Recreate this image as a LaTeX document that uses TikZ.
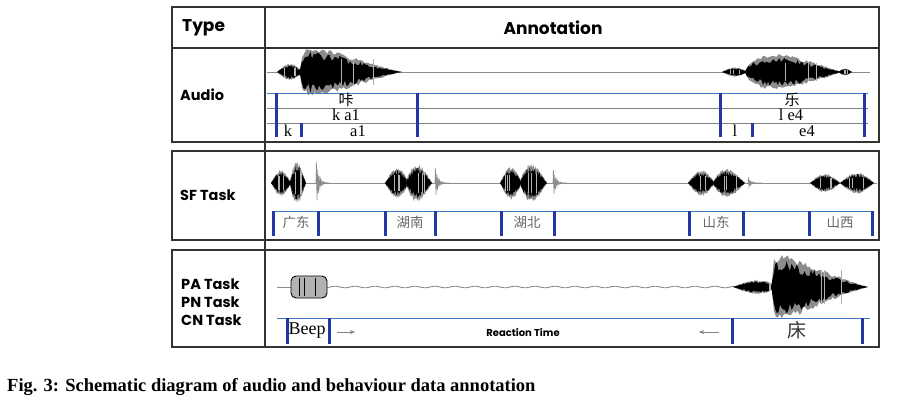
\documentclass[tikz,border=0pt]{standalone}
\usepackage{fontspec}
\setmainfont{Liberation Serif}
\setsansfont{Poppins}
\newfontfamily\cjk{Noto Sans CJK SC}
\usetikzlibrary{arrows.meta}

\definecolor{framegray}{HTML}{333333}
\definecolor{tierblue}{HTML}{3B78BD}
\definecolor{barblue}{HTML}{2437A6}
\definecolor{wavegray}{HTML}{8C8C8C}

% one burst of a waveform: x0, x1, centre line, amplitude, skew
\newcommand{\wblob}[5]{%
  \fill[wavegray] plot[domain=#1:#2, samples=50, variable=\t]
      (\t, {#3 - 1.2*#4*sin(180*((\t-#1+0.01)/(#2-#1+0.02))^#5)*(0.75+0.25*rnd)})
    -- plot[domain=#2:#1, samples=50, variable=\t]
      (\t, {#3 + 1.2*#4*sin(180*((\t-#1+0.01)/(#2-#1+0.02))^#5)*(0.75+0.25*rnd)}) -- cycle;
  \fill[black] plot[domain=#1:#2, samples=60, variable=\t]
      (\t, {#3 - #4*sin(180*((\t-#1+0.01)/(#2-#1+0.02))^#5)*(0.55+0.45*rnd)})
    -- plot[domain=#2:#1, samples=60, variable=\t]
      (\t, {#3 + #4*sin(180*((\t-#1+0.01)/(#2-#1+0.02))^#5)*(0.55+0.45*rnd)}) -- cycle;
  \foreach \k in {1,...,3}{
    \pgfmathsetmacro\xs{#1+0.25*(#2-#1)+0.5*(#2-#1)*rnd}
    \draw[gray!60, line width=0.5pt] (\xs, #3-0.6*#4) -- (\xs, #3+0.6*#4);
  }%
}

\begin{document}
\begin{tikzpicture}[x=1pt, y=-1pt,
    frame/.style={draw=framegray, line width=1.1pt},
    tier/.style={tierblue, line width=0.9pt},
    subtier/.style={gray, line width=0.8pt},
    bound/.style={barblue, line width=3pt},
    base/.style={wavegray, line width=0.9pt},
    head/.style={font=\sffamily\bfseries\fontsize{17}{17}\selectfont, anchor=west, inner sep=0pt},
    rowlab/.style={font=\sffamily\bfseries\fontsize{14.5}{18}\selectfont, anchor=west, inner sep=0pt},
    seg/.style={font=\fontsize{16.5}{16.5}\selectfont, inner sep=0pt},
    cn/.style={font=\cjk\fontsize{13.5}{13.5}\selectfont, text=gray!80!black, inner sep=0pt}]
    \useasboundingbox (0,0) rectangle (901,401);
    \pgfmathsetseed{7}
    % table frame
    \draw[frame] (172,7) rectangle (879,142);
    \draw[frame] (172,48) -- (879,48);
    \draw[frame] (172,151) rectangle (879,240);
    \draw[frame] (172,250) rectangle (879,347);
    \draw[frame] (265,7) -- (265,347);
    \node[head] (type) at (182,28) {Type};
    \node[head, anchor=center] (annot) at (553,28) {Annotation};
    % (1) Audio
    \node[rowlab] (audio) at (180,95) {Audio};
    \draw[base] (267,72) -- (870,72);
    \wblob{277}{303}{72}{7}{1}
    \wblob{300}{402}{72}{21}{0.35}
    \wblob{722}{748}{72}{4}{1}
    \wblob{745}{842}{72}{15}{0.6}
    \wblob{838}{852}{72}{3}{1}
    \draw[tier] (267,93) -- (868,93);
    \draw[subtier] (267,108) -- (868,108);
    \draw[subtier] (267,123) -- (868,123);
    \foreach \x in {276,417,720,864} \draw[bound] (\x,93) -- (\x,137);
    \foreach \x in {301,752} \draw[bound] (\x,123) -- (\x,137);
    \node[seg, font=\cjk\fontsize{15}{15}\selectfont] (ka) at (346,100) {咔};
    \node[seg] (kapy) at (346,115) {k a1};
    \node[seg] (k) at (288,131) {k};
    \node[seg] (a) at (358,131) {a1};
    \node[seg, font=\cjk\fontsize{15}{15}\selectfont] (le) at (792,100) {乐};
    \node[seg] (lepy) at (791,115) {l e4};
    \node[seg] (l) at (735,131) {l};
    \node[seg] (e) at (807,131) {e4};
    % (2) SF Task
    \node[rowlab] (sf) at (180,195) {SF Task};
    \draw[base] (272,183) -- (877,183);
    \wblob{271}{291}{183}{11}{1}
    \wblob{290}{306}{183}{18}{0.8}
    \wblob{385}{409}{183}{13}{1}
    \wblob{406}{432}{183}{16}{0.8}
    \wblob{500}{522}{183}{14}{1}
    \wblob{520}{547}{183}{16}{0.8}
    \wblob{688}{715}{183}{11}{1}
    \wblob{713}{745}{183}{12}{0.8}
    \wblob{810}{840}{183}{8}{1}
    \wblob{840}{874}{183}{9}{1}
    \foreach \s/\h in {316/26, 435/18, 553/16, 748/6}
      \draw[wavegray, line width=0.6pt] plot[domain=0:14, samples=70, variable=\t]
        ({\s+\t}, {183 - \h*exp(-\t/2.5)*sin(\t*260)});
    \draw[tier] (272,211) -- (873,211);
    \foreach \x in {273,318,385,435,501,554,689,743,809,872} \draw[bound] (\x,211) -- (\x,236);
    \node[cn] (gd) at (296,222) {广东};
    \node[cn] (hn) at (410,222) {湖南};
    \node[cn] (hb) at (527,222) {湖北};
    \node[cn] (sd) at (716,222) {山东};
    \node[cn] (sx) at (840,222) {山西};
    % (3) PA / PN / CN Task
    \node[rowlab, align=left] (tasks) at (181,302) {PA Task\\PN Task\\CN Task};
    \draw[base] (277,287) -- (291,287);
    \draw[base] plot[domain=327:735, samples=160, variable=\t] (\t, {287+0.8*sin(\t*18)});
    \filldraw[fill=gray!60, draw=black, line width=0.9pt, rounded corners=5pt] (291,276) rectangle (327,298);
    \foreach \x in {299,304,315} \draw[black, line width=0.6pt] (\x,278) -- (\x,296);
    \wblob{733}{782}{287}{6}{1}
    \wblob{772}{868}{287}{28}{0.3}
    \draw[tier] (277,318) -- (870,318);
    \foreach \x in {287,329,732,862} \draw[bound] (\x,318) -- (\x,344);
    \node[seg, font=\fontsize{18}{18}\selectfont] (beep) at (307,331) {Beep};
    \node[font=\sffamily\bfseries\fontsize{10}{10}\selectfont, inner sep=0pt] (rt) at (523,333) {Reaction Time};
    \coordinate (r1) at (337,332);
    \coordinate (r2) at (355,332);
    \coordinate (l1) at (719,332);
    \coordinate (l2) at (699,332);
    \draw[-{Stealth[length=5pt,width=4pt]}, gray, line width=0.6pt] (r1) -- (r2);
    \draw[-{Stealth[length=5pt,width=4pt]}, gray, line width=0.6pt] (l1) -- (l2);
    \node[cn, font=\cjk\fontsize{19}{19}\selectfont, text=black!80] (chuang) at (797,330) {床};
    % caption
    \node[anchor=base west, font=\bfseries\fontsize{18.5}{18.5}\selectfont, inner sep=0pt] (caption) at (7,391)
      {Fig. 3: Schematic diagram of audio and behaviour data annotation};
\end{tikzpicture}
\end{document}
